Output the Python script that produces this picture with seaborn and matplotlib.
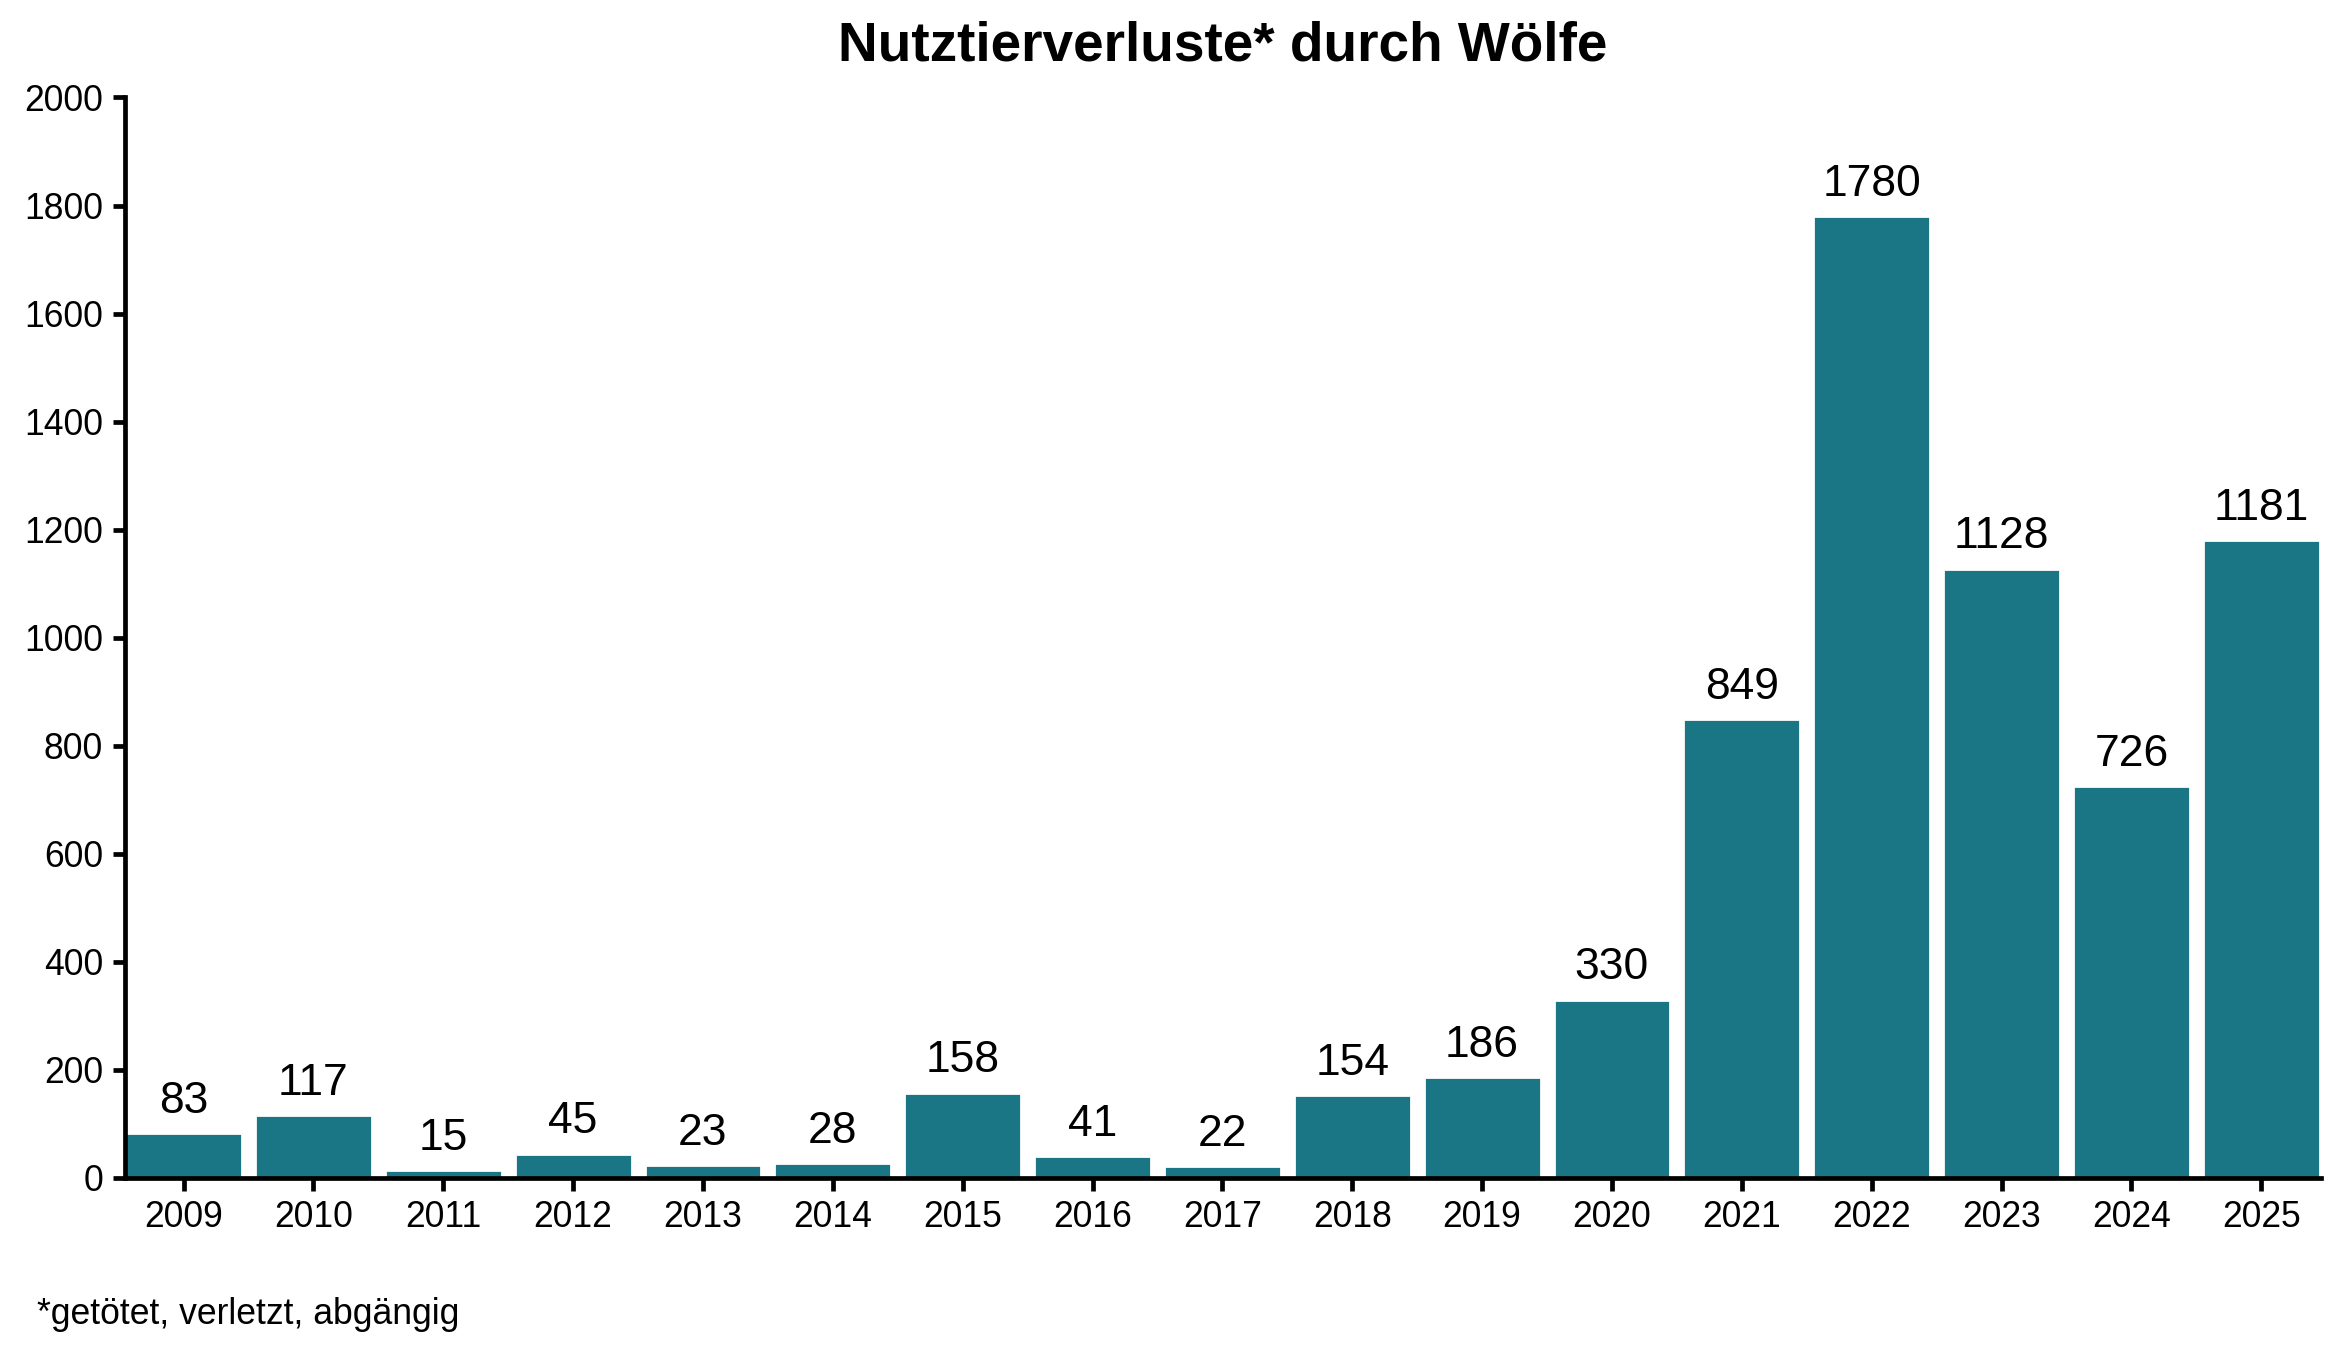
import matplotlib
matplotlib.use("Agg")
import matplotlib.pyplot as plt
import seaborn as sns
import pandas as pd

# Daten
jahre = ["2009", "2010", "2011", "2012", "2013", "2014", "2015", "2016", "2017",
         "2018", "2019", "2020", "2021", "2022", "2023", "2024", "2025"]
verluste = [83, 117, 15, 45, 23, 28, 158, 41, 22, 154, 186, 330, 849, 1780, 1128, 726, 1181]
y_ticks = [0, 200, 400, 600, 800, 1000, 1200, 1400, 1600, 1800, 2000]

sns.set_style("ticks")
plt.rcParams['font.family'] = ['Liberation Sans', 'DejaVu Sans']
plt.rcParams['text.color'] = 'black'
plt.rcParams['xtick.color'] = 'black'
plt.rcParams['ytick.color'] = 'black'
plt.rcParams['axes.edgecolor'] = 'black'

df = pd.DataFrame({"Jahr": jahre, "Verluste": verluste})

fig = plt.figure(figsize=(11.715, 6.75), dpi=200)
ax = fig.add_axes([0.0534, 0.1275, 0.9372, 0.8003])

sns.barplot(data=df, x="Jahr", y="Verluste", color="#1a7684", saturation=1,
            width=0.9, ax=ax)
ax.bar_label(ax.containers[0], padding=4, fontsize=16, color="black")

ax.set_ylim(0, 2000)
ax.set_yticks(y_ticks)
ax.set_xlim(-0.45, 16.46)
ax.set_xlabel("")
ax.set_ylabel("")
sns.despine(ax=ax)
for s in ["left", "bottom"]:
    ax.spines[s].set_linewidth(1.7)
ax.tick_params(axis="both", labelsize=12.8, width=1.7, length=4.5, color="black",
               labelcolor="black")

fig.text(0.522, 0.9655, "Nutztierverluste* durch Wölfe", ha="center", va="center",
         fontsize=19.8, fontweight="bold", color="black")
fig.text(0.016, 0.0265, "*getötet, verletzt, abgängig", ha="left", va="center",
         fontsize=12.8, color="black")

fig.savefig("out.png", dpi=200)
